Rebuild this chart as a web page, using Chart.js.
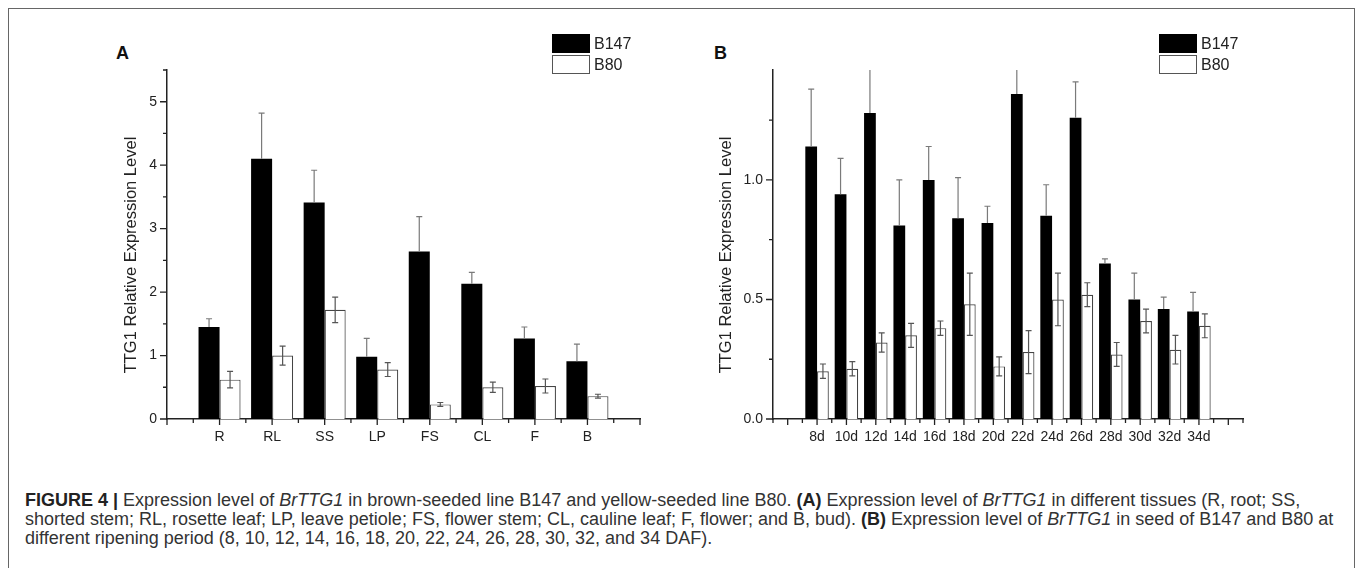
<!DOCTYPE html>
<html>
<head>
<meta charset="utf-8">
<script src="https://cdn.jsdelivr.net/npm/chart.js@4.4.1/dist/chart.umd.min.js"></script>
<style>
  html, body { margin: 0; padding: 0; background: #fff; }
  body { width: 1357px; height: 568px; position: relative; overflow: hidden; font-family: "Liberation Sans", Arial, sans-serif; }
  .frame { position: absolute; left: 8px; top: 8px; width: 1347px; height: 600px; border: 1px solid #666; box-sizing: border-box; }
  canvas { position: absolute; }
  .panel { position: absolute; font-weight: bold; font-size: 18px; line-height: 18px; color: #111; }
  .legend { position: absolute; font-size: 16px; color: #222; }
  .legend .row { position: relative; height: 21px; }
  .legend .box { position: absolute; left: 0; width: 38px; height: 19px; box-sizing: border-box; }
  .legend .txt { position: absolute; left: 42px; top: 1px; line-height: 18px; }
  .caption { position: absolute; left: 25px; font-size: 18px; line-height: 18.5px; color: #333; white-space: nowrap; }
  .caption b { color: #222; }
</style>
</head>
<body>
<div class="frame"></div>

<div class="panel" style="left:116px; top:44px;">A</div>
<div class="panel" style="left:714px; top:44px;">B</div>

<canvas id="tissueChart" width="560" height="470" style="left:100px; top:0px; width:560px; height:470px;"></canvas>
<canvas id="seedChart" width="590" height="470" style="left:680px; top:0px; width:590px; height:470px;"></canvas>

<div class="legend" style="left:552px; top:34px;">
  <div class="row"><div class="box" style="background:#000;"></div><div class="txt">B147</div></div>
  <div class="row"><div class="box" style="background:#fff; border:1px solid #555;"></div><div class="txt">B80</div></div>
</div>
<div class="legend" style="left:1159px; top:34px;">
  <div class="row"><div class="box" style="background:#000;"></div><div class="txt">B147</div></div>
  <div class="row"><div class="box" style="background:#fff; border:1px solid #555;"></div><div class="txt">B80</div></div>
</div>

<div class="caption" style="top:491px;"><b>FIGURE 4 |</b> Expression level of <i>BrTTG1</i> in brown-seeded line B147 and yellow-seeded line B80. <b>(A)</b> Expression level of <i>BrTTG1</i> in different tissues (R, root; SS,</div>
<div class="caption" style="top:510px;">shorted stem; RL, rosette leaf; LP, leave petiole; FS, flower stem; CL, cauline leaf; F, flower; and B, bud). <b>(B)</b> Expression level of <i>BrTTG1</i> in seed of B147 and B80 at</div>
<div class="caption" style="top:528.5px;">different ripening period (8, 10, 12, 14, 16, 18, 20, 22, 24, 26, 28, 30, 32, and 34 DAF).</div>

<script>
// --- Data ---
const tissueLabels = ['R', 'RL', 'SS', 'LP', 'FS', 'CL', 'F', 'B'];
const tissueB147 = [1.45, 4.10, 3.41, 0.98, 2.64, 2.13, 1.27, 0.91];
const tissueB147Err = [0.13, 0.72, 0.51, 0.29, 0.55, 0.18, 0.18, 0.27];
const tissueB80 = [0.62, 1.00, 1.72, 0.78, 0.23, 0.50, 0.52, 0.36];
const tissueB80Err = [0.13, 0.15, 0.20, 0.11, 0.03, 0.08, 0.11, 0.03];

const seedLabels = ['8d', '10d', '12d', '14d', '16d', '18d', '20d', '22d', '24d', '26d', '28d', '30d', '32d', '34d'];
const seedB147 = [1.14, 0.94, 1.28, 0.81, 1.00, 0.84, 0.82, 1.36, 0.85, 1.26, 0.65, 0.50, 0.46, 0.45];
const seedB147Err = [0.24, 0.15, 0.25, 0.19, 0.14, 0.17, 0.07, 0.20, 0.13, 0.15, 0.02, 0.11, 0.05, 0.08];
const seedB80 = [0.20, 0.21, 0.32, 0.35, 0.38, 0.48, 0.22, 0.28, 0.50, 0.52, 0.27, 0.41, 0.29, 0.39];
const seedB80Err = [0.03, 0.03, 0.04, 0.05, 0.03, 0.13, 0.04, 0.09, 0.11, 0.05, 0.05, 0.05, 0.06, 0.05];

const yTitle = 'TTG1 Relative Expression Level';

Chart.defaults.font.family = '"Liberation Sans", Arial, sans-serif';
Chart.defaults.color = '#222';

// pad an empty slot on each side of the category axis
const pad = arr => [null, ...arr, null];
const padLabels = arr => ['', ...arr, ''];

// --- Plugins ---

// error bars: B147 only upward, B80 both ways
const errorBars = {
    id: 'errorBars',
    afterDatasetsDraw(chart) {
        const { ctx, chartArea, scales: { y } } = chart;
        ctx.save();
        ctx.beginPath();
        ctx.rect(chartArea.left, chartArea.top, chartArea.right - chartArea.left, chartArea.bottom - chartArea.top + 2);
        ctx.clip();
        chart.data.datasets.forEach((ds, di) => {
            const meta = chart.getDatasetMeta(di);
            ctx.strokeStyle = ds.errColor;
            ctx.lineWidth = 1.2;
            meta.data.forEach((bar, i) => {
                const v = ds.data[i];
                const e = ds.errors[i];
                if (v === null || e === null) return;
                const top = y.getPixelForValue(v + e);
                const bot = ds.errBoth ? y.getPixelForValue(v - e) : y.getPixelForValue(v);
                ctx.beginPath();
                ctx.moveTo(bar.x, top);
                ctx.lineTo(bar.x, bot);
                ctx.moveTo(bar.x - 3, top);
                ctx.lineTo(bar.x + 3, top);
                if (ds.errBoth) {
                    ctx.moveTo(bar.x - 3, bot);
                    ctx.lineTo(bar.x + 3, bot);
                }
                ctx.stroke();
            });
        });
        ctx.restore();
    }
};

// outward tick marks with minor ticks, and the rotated y title
const axisDecor = {
    id: 'axisDecor',
    afterDraw(chart, args, opts) {
        const { ctx, chartArea, scales: { x, y } } = chart;
        ctx.save();
        ctx.strokeStyle = '#222';
        ctx.lineWidth = 1.3;
        ctx.beginPath();
        for (let v = opts.xFrom; v <= opts.xTo + 1e-6; v += 0.5) {
            const px = x.getPixelForValue(v);
            const len = Math.abs(v - Math.round(v)) < 1e-6 ? 6 : 4;
            ctx.moveTo(px, chartArea.bottom);
            ctx.lineTo(px, chartArea.bottom + len);
        }
        for (let v = 0; v <= y.max + 1e-6; v += opts.yMinor) {
            const py = y.getPixelForValue(v);
            const major = Math.abs(v / opts.yMajor - Math.round(v / opts.yMajor)) < 1e-6;
            ctx.moveTo(chartArea.left, py);
            ctx.lineTo(chartArea.left - (major ? 7 : 4), py);
        }
        ctx.stroke();

        ctx.translate(opts.titleX, opts.titleY);
        ctx.rotate(-Math.PI / 2);
        ctx.fillStyle = '#222';
        ctx.font = '16.5px "Liberation Sans", Arial, sans-serif';
        ctx.textAlign = 'center';
        ctx.textBaseline = 'middle';
        ctx.fillText(yTitle, 0, 0);
        ctx.restore();
    }
};

function makeChart(canvasId, labels, b147, b147Err, b80, b80Err, cfg) {
    return new Chart(document.getElementById(canvasId), {
        type: 'bar',
        data: {
            labels: padLabels(labels),
            datasets: [
                { label: 'B147', data: pad(b147), errors: pad(b147Err), errBoth: false, errColor: '#7a7a7a',
                  backgroundColor: '#000', borderWidth: 0 },
                { label: 'B80', data: pad(b80), errors: pad(b80Err), errBoth: true, errColor: '#555',
                  backgroundColor: '#fff', borderColor: '#444', borderWidth: 1.2 }
            ]
        },
        options: {
            responsive: false,
            animation: false,
            datasets: { bar: { categoryPercentage: 0.8, barPercentage: 1.0 } },
            layout: { padding: { top: 70, right: cfg.padRight, bottom: 11, left: 0 } },
            plugins: {
                legend: { display: false },
                tooltip: { enabled: false },
                axisDecor: cfg.decor
            },
            scales: {
                x: {
                    offset: cfg.offset,
                    grid: { display: false, drawTicks: false },
                    border: { display: true, color: '#222', width: 1.5 },
                    ticks: { autoSkip: false, maxRotation: 0, padding: 10, font: { size: 14 } },
                    afterFit: s => { s.height = 40; }
                },
                y: {
                    min: 0,
                    max: cfg.yMax,
                    grid: { display: false, drawTicks: false },
                    border: { display: true, color: '#222', width: 1.5 },
                    ticks: {
                        stepSize: cfg.yStep,
                        includeBounds: false,
                        padding: 10,
                        font: { size: 14 },
                        callback: v => cfg.yFmt(v)
                    },
                    afterFit: s => { s.width = cfg.yWidth; }
                }
            }
        },
        plugins: [errorBars, axisDecor]
    });
}

makeChart('tissueChart', tissueLabels, tissueB147, tissueB147Err, tissueB80, tissueB80Err, {
    offset: false, padRight: 20, yMax: 5.5, yStep: 1, yWidth: 67,
    yFmt: v => String(v),
    decor: { xFrom: 0, xTo: 9, yMinor: 0.5, yMajor: 1, titleX: 31, titleY: 255 }
});

makeChart('seedChart', seedLabels, seedB147, seedB147Err, seedB80, seedB80Err, {
    offset: true, padRight: 27, yMax: 1.46, yStep: 0.5, yWidth: 93,
    yFmt: v => v.toFixed(1),
    decor: { xFrom: -0.5, xTo: 15.5, yMinor: 0.25, yMajor: 0.5, titleX: 46, titleY: 255 }
});
</script>
</body>
</html>
